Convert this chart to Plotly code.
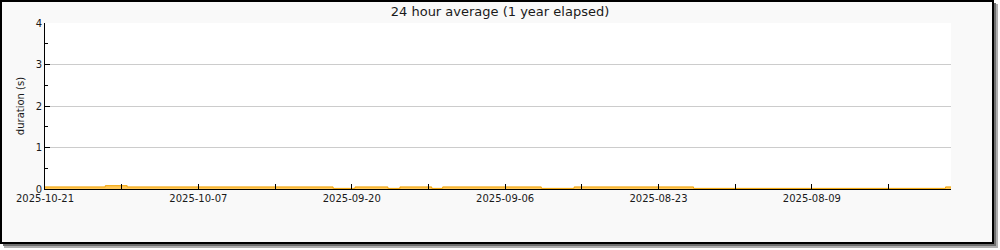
import plotly.graph_objects as go

# ---- data (days back from 2025-10-21, value in seconds; step segments) ----
seg_start_days = [0.0, 5.5, 7.5, 26.3, 28.3, 31.3, 32.4, 35.3, 36.3, 45.3, 48.3, 59.2, 82.2, 82.7]
seg_values     = [0.05, 0.08, 0.05, 0.015, 0.05, 0.015, 0.05, 0.015, 0.05, 0.015, 0.05, 0.015, 0.05, 0.05]

tick_days   = [0, 7, 14, 21, 28, 35, 42, 49, 56, 63, 70, 77]
tick_labels = ["2025-10-21", "", "2025-10-07", "", "2025-09-20", "", "2025-09-06", "", "2025-08-23", "", "2025-08-09", ""]

y_ticks = [0, 1, 2, 3, 4]

W, H = 1000, 250
L, R, T, B = 45, 951, 23, 189

def px(x):
    return (x - L) / (R - L)

def py(y):
    return (B - y) / (B - T)

fig = go.Figure()
fig.add_trace(go.Scatter(
    x=seg_start_days, y=seg_values, mode="lines", line_shape="hv",
    line=dict(color="#f2a200", width=1), fill="tozeroy", fillcolor="#ffc85a",
    hoverinfo="skip", showlegend=False,
))

shapes = [
    # shadow
    dict(type="rect", xref="paper", yref="paper", x0=px(4), x1=px(998), y0=py(4), y1=py(248),
         fillcolor="#b0b0b0", line=dict(width=0), layer="below"),
    dict(type="rect", xref="paper", yref="paper", x0=px(3), x1=px(996), y0=py(3), y1=py(246),
         fillcolor="#707070", line=dict(width=0), layer="below"),
    # frame
    dict(type="rect", xref="paper", yref="paper", x0=px(1), x1=px(993), y0=py(1), y1=py(243),
         fillcolor="#f9f9f9", line=dict(color="#000000", width=2), layer="below"),
    # plot area
    dict(type="rect", xref="paper", yref="paper", x0=0, x1=1, y0=0, y1=1,
         fillcolor="#ffffff", line=dict(width=0), layer="below"),
]

fig.update_layout(
    width=W, height=H,
    margin=dict(l=L, r=W - R, t=T, b=H - B, pad=0),
    paper_bgcolor="#ffffff", plot_bgcolor="#ffffff",
    font=dict(family="DejaVu Sans", size=10, color="#1a1a1a"),
    title=dict(text="24 hour average (1 year elapsed)", x=0.5, xanchor="center",
               y=1 - 11 / H, yanchor="middle", yref="container",
               font=dict(family="DejaVu Sans", size=13, color="#1a1a1a")),
    shapes=shapes,
    xaxis=dict(range=[0, 82.7], tickmode="array", tickvals=tick_days, ticktext=tick_labels,
               ticks="inside", ticklen=5, tickcolor="#000000", tickwidth=1,
               showline=True, linecolor="#000000", linewidth=1, showgrid=False,
               zeroline=False, fixedrange=True, tickfont=dict(size=10)),
    yaxis=dict(range=[0, 4], tickmode="array", tickvals=y_ticks,
               ticks="inside", ticklen=5, tickcolor="#000000", tickwidth=1,
               minor=dict(dtick=0.5, ticks="inside", ticklen=3, tickcolor="#000000", showgrid=False),
               showline=True, linecolor="#000000", linewidth=1,
               showgrid=True, gridcolor="#cccccc", gridwidth=1, zeroline=False,
               title=dict(text="duration (s)", standoff=9, font=dict(size=10)),
               fixedrange=True, tickfont=dict(size=10)),
)

fig.write_html("out.html")
